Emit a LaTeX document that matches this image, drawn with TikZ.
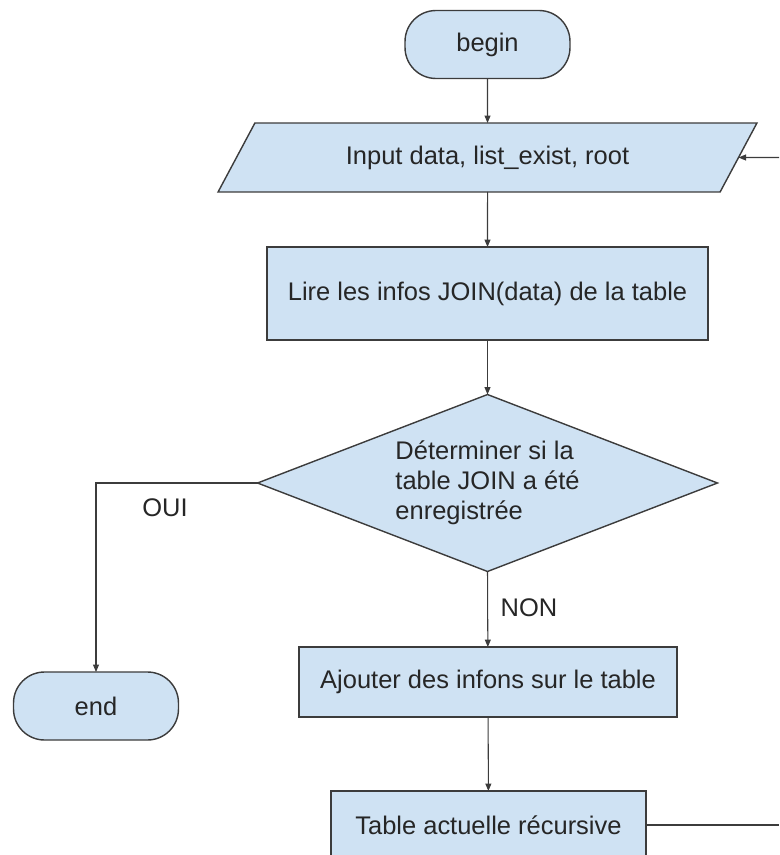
\documentclass[tikz,border=0pt]{standalone}
\usepackage{fontspec}
\setmainfont{Liberation Sans}
\usetikzlibrary{shapes.geometric,arrows.meta}
\definecolor{boxfill}{HTML}{CFE2F3}
\definecolor{boxline}{HTML}{3C3C3C}
\begin{document}
\begin{tikzpicture}[x=0.02cm, y=-0.02cm,
		every node/.style={font=\fontsize{14.5}{17}\selectfont, text=black!85},
		box/.style={draw=boxline, fill=boxfill, line width=0.8pt, inner sep=0pt, outer sep=0pt},
		terminal/.style={box, rectangle, rounded corners=0.62cm, minimum width=3.3cm, minimum height=1.36cm},
		process/.style={box, rectangle},
		iobox/.style={box, trapezium, trapezium left angle=32.8, trapezium right angle=147.2, trapezium stretches body, minimum width=10.78cm, minimum height=1.38cm},
		decision/.style={box, diamond, aspect=2.6, minimum width=9.2cm, minimum height=3.54cm, align=left},
		link/.style={draw=boxline, line width=0.6pt},
		flow/.style={link, -{Triangle[length=1.5mm, width=1.2mm]}}]
		\clip (0,0) rectangle (779,855);
		\node[terminal] (begin)at(487.5,44.5) {begin};
		\node[iobox] (input)at(487.5,157.5) {Input data, list\_exist, root};
		\node[process, minimum width=8.82cm, minimum height=1.86cm] (lire)at(487.5,293.5) {Lire les infos JOIN(data) de la table};
		\node[decision] (test)at(487.5,483) {Déterminer si la\\table JOIN a été\\enregistrée};
		\node[terminal] (end)at(96,706) {end};
		\node[process, minimum width=7.56cm, minimum height=1.4cm] (ajout)at(488,682) {Ajouter des infons sur le table};
		\node[process, minimum width=6.3cm, minimum height=1.36cm] (recur)at(488.5,825) {Table actuelle récursive};
		\node (oui)at(165,508) {OUI};
		\node (non)at(529,608) {NON};
		\coordinate (back)at(779,157.5);
		\coordinate (out)at(779,825);
		\draw[flow] (begin) -- (input);
		\draw[flow] (back) -- (input.east);
		\draw[flow] (input.south) -- (lire);
		\draw[flow] (lire) -- (test);
		\draw[flow] (test.west) -| (end.north);
		\draw[flow] (test.south) -- (ajout);
		\draw[flow] (ajout) -- (recur);
		\draw[link] (recur.east) -- (out);
	\end{tikzpicture}
\end{document}
